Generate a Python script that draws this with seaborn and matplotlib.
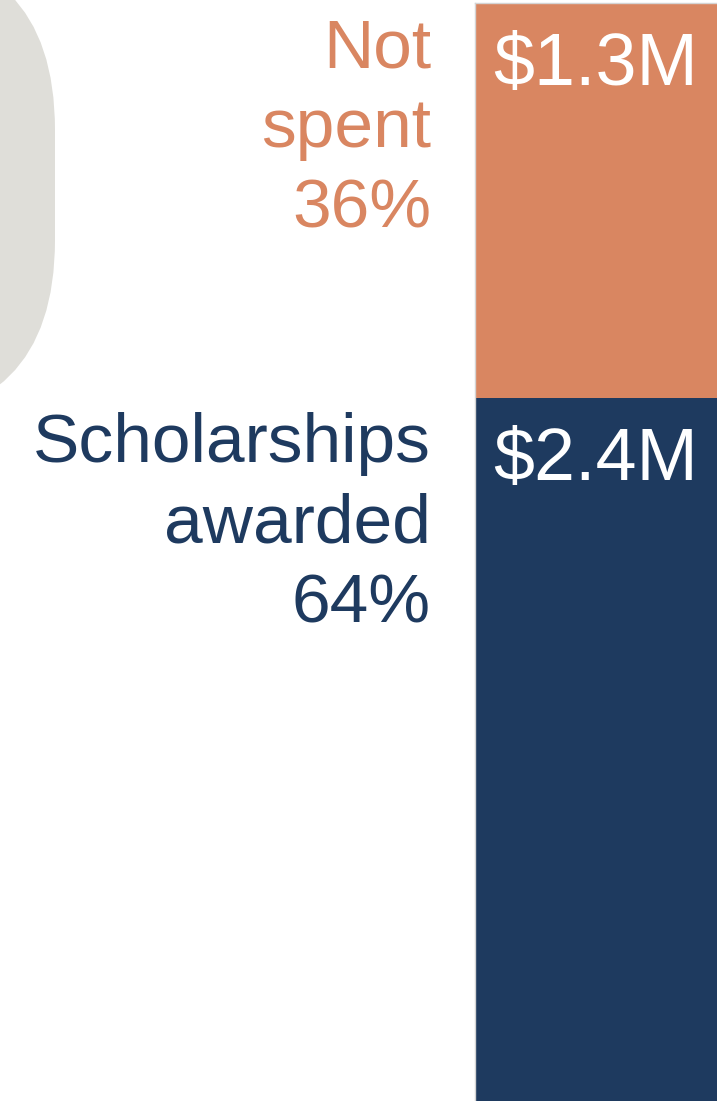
import numpy as np
import matplotlib.pyplot as plt
import matplotlib.transforms as mtransforms
import pandas as pd
import seaborn as sns
from matplotlib.patches import FancyBboxPatch

# data, bottom segment first
segments = ["Scholarships awarded", "Not spent"]
amounts = [2.4, 1.3]            # $ millions
shares = [64, 36]               # percent of total
amount_labels = ["$2.4M", "$1.3M"]
label_lines = [["Scholarships", "awarded"], ["Not", "spent"]]
colors = ["#1E3A5F", "#D98661"]

sns.set_theme(style="white")
plt.rcParams['font.family'] = ['Liberation Sans', 'DejaVu Sans']

fig = plt.figure(figsize=(7.17, 11.01), dpi=100)

# grey rounded panel peeking in from the left (decoration)
bg = fig.add_axes([0, 0, 1, 1])
bg.set_xlim(0, 717)
bg.set_ylim(1101, 0)
bg.axis('off')
bg.add_patch(FancyBboxPatch((-400, -51), 455, 472,
                            boxstyle="round,pad=0,rounding_size=181",
                            fc="#DFDED9", ec="none"))

# stacked 100% bar: draw cumulative shares, tallest first
ax = fig.add_axes([475 / 717, 0, 242 / 717, 1098 / 1101])
tops = np.cumsum(shares)
df = pd.DataFrame({"bar": ["total"] * len(segments), "segment": segments, "top": tops})
for i in reversed(range(len(segments))):
    sns.barplot(data=df.iloc[[i]], x="bar", y="top", color=colors[i], saturation=1,
                width=1, edgecolor="none", linewidth=0, ax=ax)

ax.set_xlim(-0.5, 0.5)
ax.set_ylim(0, tops[-1])
ax.set_xticks([])
ax.set_yticks([])
ax.set_xlabel("")
ax.set_ylabel("")
for side in ["right", "bottom"]:
    ax.spines[side].set_visible(False)
for side in ["left", "top"]:
    ax.spines[side].set_color("#D4D4D4")
    ax.spines[side].set_linewidth(1)

trans = mtransforms.blended_transform_factory(ax.transAxes, ax.transData)
for i in range(len(segments)):
    txt = "\n".join(label_lines[i] + [f"{shares[i]}%"])
    ax.annotate(txt, xy=(0, tops[i]), xycoords=trans, xytext=(-44, -14),
                textcoords="offset pixels", ha="right", va="top",
                fontsize=50, color=colors[i], linespacing=1.32,
                annotation_clip=False)
    ax.annotate(amount_labels[i], xy=(0.5, tops[i]), xycoords=trans, xytext=(0, -82),
                textcoords="offset pixels", ha="center", va="baseline",
                fontsize=53, color="white", annotation_clip=False)

fig.savefig("out.png", dpi=100)
